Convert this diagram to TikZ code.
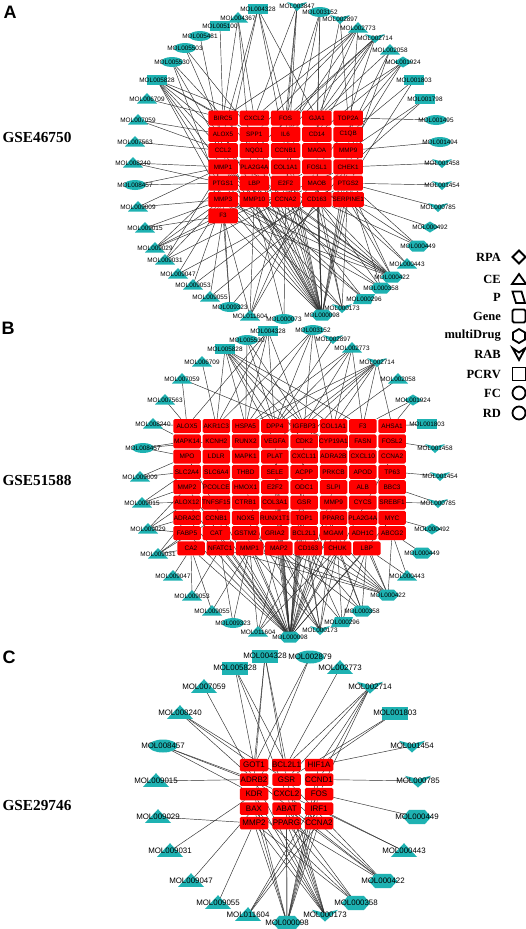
\documentclass[tikz,border=0pt]{standalone}
\usepackage{fontspec}
\setmainfont{Liberation Serif}
\newfontfamily\arialf{Liberation Sans}
\pgfdeclarelayer{bgl}
\pgfdeclarelayer{edges}
\pgfsetlayers{bgl,edges,main}
\definecolor{molc}{RGB}{30,178,178}
\definecolor{genec}{RGB}{255,0,0}
\definecolor{edgec}{RGB}{45,45,45}
\tikzset{
 molT/.pic={\fill[molc] (-10,4.5) -- (10,4.5) -- (0,-6) -- cycle;},
 molR/.pic={\fill[molc] (-10,-5) rectangle (10,5);},
 molE/.pic={\fill[molc] (0,0) ellipse [x radius=11, y radius=5];},
 molV/.pic={\fill[molc] (-10,-4) -- (0,-1.5) -- (10,-4) -- (0,5) -- cycle;},
 molD/.pic={\fill[molc] (-9,0) -- (0,-5.5) -- (9,0) -- (0,5.5) -- cycle;},
 molH/.pic={\fill[molc] (-11,0) -- (-6,-5.5) -- (6,-5.5) -- (11,0) -- (6,5.5) -- (-6,5.5) -- cycle;},
 molP/.pic={\fill[molc] (-11,5) -- (-7,-5) -- (11,-5) -- (7,5) -- cycle;},
 mlab/.style={font=\arialf\fontsize{6.4}{7}\selectfont, inner sep=0.5pt},
 mlabC/.style={font=\arialf\fontsize{7.9}{9}\selectfont, inner sep=0.5pt},
 geneA/.style={fill=genec, rounded corners=1.5pt, minimum width=29.5pt, minimum height=15pt, inner sep=0pt, text=black, font=\arialf\fontsize{6.3}{7}\selectfont},
 geneB/.style={fill=genec, rounded corners=1.5pt, minimum width=27.5pt, minimum height=14pt, inner sep=0pt, text=black, font=\arialf\fontsize{6.5}{7}\selectfont},
 geneC/.style={fill=genec, rounded corners=1.5pt, minimum width=28.5pt, minimum height=12.5pt, inner sep=0pt, text=black, font=\arialf\fontsize{8}{9}\selectfont},
 lnk/.style={draw=edgec, line width=0.45pt},
 panel/.style={font=\arialf\bfseries\fontsize{18}{20}\selectfont, inner sep=0pt},
 gse/.style={font=\bfseries\fontsize{15.3}{17}\selectfont, inner sep=0pt},
 legt/.style={font=\bfseries\fontsize{12.5}{14}\selectfont, anchor=east, inner sep=0pt},
 legs/.style={draw=black, line width=1.8pt}
}
\newcommand\molA[4]{\pic at (#3,#4) {mol#2}; \node[mlab] (A#1) at (#3,#4) {MOL#1};}
\newcommand\molB[4]{\pic at (#3,#4) {mol#2}; \node[mlab] (B#1) at (#3,#4) {MOL#1};}
\newcommand\molC[4]{\pic[scale=1.3] at (#3,#4) {mol#2}; \node[mlabC] (C#1) at (#3,#4) {MOL#1};}
\begin{document}
\begin{tikzpicture}[x=1pt,y=-1pt]
\useasboundingbox (0,0) rectangle (526,929);
\begin{pgfonlayer}{bgl}
\fill[white] (0,0) rectangle (526,929);
\end{pgfonlayer}
% ---------- panel labels
\node[panel] (lA) at (10,12) {A};
\node[panel] (lB) at (8,328) {B};
\node[panel] (lC) at (9,657) {C};
\node[gse] (gA) at (37,137) {GSE46750};
\node[gse] (gB) at (37,480) {GSE51588};
\node[gse] (gC) at (37,805) {GSE29746};
% ---------- panel A genes
\foreach \g [count=\i from 0] in {BIRC5,CXCL2,FOS,GJA1,TOP2A,ALOX5,SPP1,IL6,CD14,C1QB,CCL2,NQO1,CCNB1,MAOA,MMP9,MMP1,PLA2G4A,COL1A1,FOSL1,CHEK1,PTGS1,LBP,E2F2,MAOB,PTGS2,MMP3,MMP10,CCNA2,CD163,SERPINE1,F3}{
  \pgfmathsetmacro\gx{223+31.3*mod(\i,5)}
  \pgfmathsetmacro\gy{118+16.3*floor(\i/5)}
  \node[geneA] (A-\g) at (\gx,\gy) {\g};
}
% ---------- panel A molecules
\molA{004328}{R}{258}{9}
\molA{003847}{V}{297}{6}
\molA{003152}{E}{320}{12}
\molA{002897}{V}{340}{19}
\molA{002773}{T}{358}{28}
\molA{002714}{V}{375}{38}
\molA{002058}{T}{390}{50}
\molA{001924}{D}{403}{62}
\molA{001803}{R}{414}{80}
\molA{001798}{R}{425}{99}
\molA{001495}{E}{436}{120}
\molA{001494}{E}{440}{142}
\molA{001458}{V}{442}{163}
\molA{001454}{V}{442}{185}
\molA{000785}{V}{438}{207}
\molA{000492}{D}{430}{227}
\molA{000449}{H}{418}{246}
\molA{000443}{T}{407}{264}
\molA{000422}{H}{392}{277}
\molA{000358}{H}{381}{288}
\molA{000296}{P}{364}{299}
\molA{000173}{V}{342}{308}
\molA{000098}{H}{322}{315}
\molA{000073}{E}{284}{319}
\molA{011604}{T}{250}{316}
\molA{009323}{E}{230}{307}
\molA{009055}{T}{210}{297}
\molA{009053}{T}{193}{285}
\molA{009047}{T}{178}{274}
\molA{009031}{T}{165}{260}
\molA{009029}{T}{155}{248}
\molA{009015}{T}{145}{228}
\molA{009009}{T}{138}{207}
\molA{008457}{E}{135}{185}
\molA{008240}{T}{133}{163}
\molA{007563}{T}{135}{142}
\molA{007059}{T}{138}{120}
\molA{006709}{T}{147}{99}
\molA{005828}{R}{157}{80}
\molA{005530}{E}{172}{62}
\molA{005503}{E}{185}{48}
\molA{005481}{E}{200}{36}
\molA{005100}{R}{220}{26}
\molA{004367}{T}{238}{18}
% ---------- panel B genes
\foreach \g [count=\i from 0] in {ALOX5,AKR1C3,HSPA5,DPP4,IGFBP3,COL1A1,F3,AHSA1,MAPK14,KCNH2,RUNX2,VEGFA,CDK2,CYP19A1,FASN,FOSL2,MPO,LDLR,MAPK1,PLAT,CXCL11,ADRA2B,CXCL10,CCNA2,SLC2A4,SLC6A4,THBD,SELE,ACPP,PRKCB,APOD,TP63,MMP2,PCOLCE,HMOX1,E2F2,ODC1,SLPI,ALB,BBC3,ALOX12,TNFSF15,CTRB1,COL3A1,GSR,MMP9,CYCS,SREBF1,ADRA2C,CCNB1,NOX5,RUNX1T1,TOP1,PPARG,PLA2G4A,MYC,FABP5,CAT,GSTM2,GRIA2,BCL2L1,MGAM,ADH1C,ABCG2,CA2,NFATC1,MMP1,MAP2,CD163,CHUK,LBP}{
  \pgfmathsetmacro\gx{187+29.3*mod(\i,8)+4*(floor(\i/8)==8)}
  \pgfmathsetmacro\gy{426+15.3*floor(\i/8)}
  \node[geneB] (B-\g) at (\gx,\gy) {\g};
}
% ---------- panel B molecules
\molB{004328}{R}{268}{331}
\molB{003152}{E}{313}{330}
\molB{002897}{V}{333}{339}
\molB{002773}{T}{352}{348}
\molB{002714}{V}{377}{362}
\molB{002058}{T}{398}{379}
\molB{001924}{D}{413}{400}
\molB{001803}{R}{427}{424}
\molB{001458}{V}{435}{448}
\molB{001454}{V}{440}{476}
\molB{000785}{V}{438}{503}
\molB{000492}{D}{432}{529}
\molB{000449}{H}{422}{553}
\molB{000443}{T}{407}{576}
\molB{000422}{H}{388}{595}
\molB{000358}{H}{362}{611}
\molB{000296}{P}{342}{622}
\molB{000173}{V}{320}{630}
\molB{000098}{H}{290}{637}
\molB{011604}{T}{258}{632}
\molB{009323}{E}{233}{623}
\molB{009055}{T}{212}{611}
\molB{009053}{T}{192}{596}
\molB{009047}{T}{173}{576}
\molB{009031}{T}{158}{554}
\molB{009029}{T}{148}{529}
\molB{009015}{T}{142}{503}
\molB{009009}{T}{140}{477}
\molB{008457}{E}{143}{448}
\molB{008240}{T}{153}{424}
\molB{007563}{T}{165}{400}
\molB{007059}{T}{182}{379}
\molB{006709}{T}{202}{362}
\molB{005828}{R}{225}{349}
\molB{005530}{E}{247}{340}
% ---------- panel C genes
\foreach \g [count=\i from 0] in {GOT1,BCL2L1,HIF1A,ADRB2,GSR,CCND1,KDR,CXCL2,FOS,BAX,ABAT,IRF1,MMP2,PPARG,CCNA2}{
  \pgfmathsetmacro\gx{254+32.5*mod(\i,3)}
  \pgfmathsetmacro\gy{765+14.5*floor(\i/3)}
  \node[geneC] (C-\g) at (\gx,\gy) {\g};
}
% ---------- panel C molecules
\molC{004328}{R}{265}{656}
\molC{002879}{E}{310}{657}
\molC{005828}{R}{235}{668}
\molC{002773}{T}{340}{668}
\molC{007059}{T}{204}{687}
\molC{002714}{V}{370}{687}
\molC{008240}{T}{180}{713}
\molC{001803}{R}{395}{713}
\molC{008457}{E}{163}{746}
\molC{001454}{V}{412}{746}
\molC{009015}{T}{156}{781}
\molC{000785}{V}{418}{781}
\molC{009029}{T}{158}{817}
\molC{000449}{H}{417}{817}
\molC{009031}{T}{170}{851}
\molC{000443}{T}{404}{851}
\molC{009047}{T}{191}{881}
\molC{000422}{H}{383}{881}
\molC{009055}{T}{218}{903}
\molC{000358}{H}{356}{903}
\molC{011604}{T}{248}{915}
\molC{000173}{V}{325}{915}
\molC{000098}{H}{287}{923}
% ---------- edges
\begin{pgfonlayer}{edges}
\foreach \m/\gs in {
 004328/{FOS,CCNB1,MMP1,GJA1,ALOX5},
 004367/{BIRC5,CXCL2,MMP10},
 003847/{CXCL2,FOS,IL6,CCNA2},
 003152/{FOS,CD14,MAOA,E2F2},
 002897/{CD14,TOP2A},
 002773/{BIRC5,CXCL2,SPP1,IL6,GJA1,MMP9},
 002714/{FOS,GJA1,NQO1,CD14,TOP2A,IL6},
 002058/{GJA1,C1QB,CHEK1},
 001924/{GJA1,CD14,MMP9,FOSL1},
 001803/{C1QB,PTGS2},
 001798/{MMP9,CHEK1},
 001495/{TOP2A},
 001494/{MMP9},
 001458/{CHEK1},
 001454/{PTGS2},
 000785/{PTGS2},
 000492/{SERPINE1},
 000449/{SERPINE1,CD163,PTGS2},
 000443/{SERPINE1,MAOB},
 000422/{PTGS1,MMP3,MMP1,F3,CCL2,PTGS2,SERPINE1,CCNA2,CD163,MMP10,E2F2},
 000358/{MMP1,MMP3,PTGS2,CD163},
 000296/{PTGS1,MMP1,CCNA2},
 000173/{MMP3,PTGS2,MAOB,CD163,MMP1},
 000098/{MMP1,MMP3,PTGS1,PTGS2,F3,CCL2,IL6,MMP9,CCNB1,CCNA2,E2F2,FOSL1,MAOA,MAOB,CD163,SERPINE1,LBP,MMP10,COL1A1,PLA2G4A,CHEK1,ALOX5,NQO1,SPP1},
 000073/{MMP10,CCNA2},
 011604/{F3,MMP10,E2F2,CD163,FOSL1},
 009323/{MMP3,F3,CHEK1},
 009055/{F3,PTGS2},
 009053/{MMP3,CHEK1},
 009047/{MMP3,PTGS2},
 009031/{MMP3,MAOB,MMP1},
 009029/{PTGS1,MMP3,FOSL1,CHEK1},
 009015/{F3,MMP3},
 009009/{MMP3,MMP1},
 008457/{PTGS1,MMP1},
 008240/{MMP1,PTGS1},
 007563/{CCL2},
 007059/{CCL2,ALOX5},
 006709/{BIRC5},
 005828/{BIRC5,ALOX5,CCL2,MMP1,PTGS1,MMP3,SPP1,CXCL2},
 005530/{MMP3,CCL2,NQO1},
 005503/{ALOX5,SPP1},
 005481/{CCL2},
 005100/{BIRC5}}
 {\foreach \g in \gs {\draw[lnk] (A\m.center) -- (A-\g);}}
\foreach \m/\gs in {
 005530/{HSPA5,DPP4,IGFBP3},
 005828/{AKR1C3,HSPA5,DPP4,IGFBP3,COL1A1,F3,CDK2,VEGFA},
 006709/{AKR1C3},
 007059/{ALOX5,CYP19A1},
 007563/{ALOX5},
 008240/{ALOX5,MAPK14},
 008457/{MAPK14,MPO,KCNH2},
 009009/{MPO,SLC2A4},
 009015/{MMP2,ALOX12,SLC2A4},
 009029/{ADRA2C,MMP2,ALOX12,FABP5},
 009031/{ADRA2C,FABP5,CA2,CCNB1},
 009047/{CA2},
 009053/{NFATC1,CA2},
 009055/{CA2,MMP1},
 009323/{NFATC1,MMP1},
 011604/{MAP2,CD163,CHUK,MMP1},
 000098/{CA2,NFATC1,MMP1,MAP2,CD163,CHUK,LBP,GSTM2,GRIA2,BCL2L1,MGAM,FABP5,CAT,CCNB1,TOP1,PPARG,ADRA2C,GSR,MMP9,COL3A1,E2F2,ODC1,SELE,PLAT,VEGFA,CXCL11,CDK2,MMP2,HMOX1,ALOX12,MPO,CCNA2,MYC,SLPI},
 000173/{MMP1,MAP2,CD163,CHUK,GRIA2,BCL2L1,PPARG,NOX5},
 000296/{CD163,CHUK,LBP,MAP2},
 000358/{CHUK,LBP,MGAM,CD163,MAP2},
 000422/{LBP,ABCG2,ADH1C,MGAM,CHUK,CD163,MAP2,MMP1,NFATC1,BCL2L1},
 000443/{ABCG2,LBP},
 000449/{ABCG2},
 000492/{MYC},
 000785/{BBC3,SREBF1},
 001454/{TP63},
 001458/{FOSL2},
 001803/{AHSA1},
 001924/{F3,AHSA1},
 002058/{COL1A1},
 002714/{DPP4,IGFBP3,COL1A1,F3,AHSA1,HSPA5,VEGFA,CDK2},
 002773/{IGFBP3,DPP4,F3,HSPA5,COL1A1},
 002897/{DPP4},
 003152/{HSPA5,DPP4,IGFBP3,COL1A1,AKR1C3},
 004328/{ALOX5,AKR1C3,HSPA5,DPP4,IGFBP3}}
 {\foreach \g in \gs {\draw[lnk] (B\m.center) -- (B-\g);}}
\foreach \m/\gs in {
 004328/{GOT1,ADRB2,BCL2L1,GSR},
 002879/{GOT1,KDR},
 005828/{GOT1,BCL2L1,CXCL2},
 002773/{BCL2L1},
 007059/{ADRB2},
 002714/{BCL2L1,HIF1A,CCND1,GSR,FOS},
 001803/{HIF1A,GSR},
 008240/{ADRB2,GOT1,GSR},
 008457/{ADRB2,KDR,CXCL2},
 001454/{HIF1A},
 009015/{ADRB2},
 000785/{CCND1},
 009029/{MMP2},
 000449/{FOS},
 009031/{KDR},
 000443/{IRF1,CXCL2},
 009047/{BAX},
 000422/{PPARG,CXCL2,ABAT,GSR,ADRB2},
 009055/{MMP2},
 000358/{PPARG,ABAT,BAX,MMP2},
 011604/{CCNA2,IRF1,FOS},
 000173/{MMP2,BAX,PPARG,ABAT,KDR,CXCL2,GSR,ADRB2},
 000098/{MMP2,KDR,BAX,PPARG,ABAT,CCNA2,IRF1,FOS,CCND1,HIF1A}}
 {\foreach \g in \gs {\draw[lnk] (C\m.center) -- (C-\g);}}
\end{pgfonlayer}
% ---------- legend
\node[legt] (tRPA) at (501,257) {RPA};
\node[legt] (tCE) at (501,279) {CE};
\node[legt] (tP) at (501,297) {P};
\node[legt] (tGene) at (501,316) {Gene};
\node[legt] (tMD) at (501,336) {multiDrug};
\node[legt] (tRAB) at (501,354) {RAB};
\node[legt] (tPCRV) at (501,374) {PCRV};
\node[legt] (tFC) at (501,393) {FC};
\node[legt] (tRD) at (501,413) {RD};
\draw[legs, line join=miter] (512.5,257) -- (519,250.5) -- (525.5,257) -- (519,263.5) -- cycle;
\draw[legs, line join=miter] (512,284) -- (526,284) -- (519,274) -- cycle;
\draw[legs, line join=miter] (512.5,291.5) -- (521.5,291.5) -- (525,303) -- (516,303) -- cycle;
\draw[legs, rounded corners=1.5pt] (512.5,309.5) rectangle (525.5,322.5);
\draw[legs, line join=miter] (519,329) -- (525,332.5) -- (525,339.5) -- (519,343) -- (513,339.5) -- (513,332.5) -- cycle;
\draw[legs, line join=miter] (512.5,348) -- (519,352.5) -- (525.5,348) -- (519,360) -- cycle;
\draw[legs] (512.5,367.5) rectangle (525.5,380.5);
\draw[legs] (519,393) circle [radius=6.5];
\draw[legs] (519,413) circle [radius=6.5];
\end{tikzpicture}
\end{document}
